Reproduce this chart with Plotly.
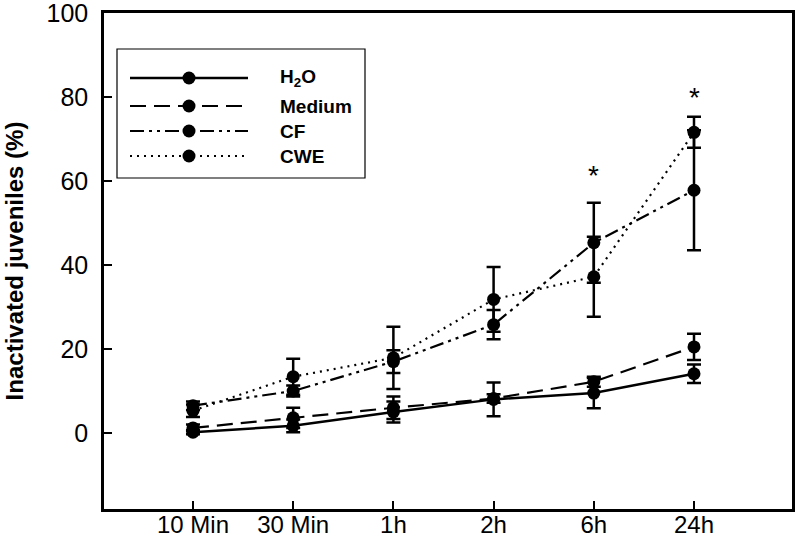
import plotly.graph_objects as go

times = ["10 Min", "30 Min", "1h", "2h", "6h", "24h"]

h2o = [0.2, 1.7, 5.0, 8.0, 9.5, 14.1]
h2o_err = [0.5, 1.5, 2.5, 4.0, 3.6, 2.2]
medium = [1.2, 3.6, 6.0, 8.2, 12.2, 20.5]
medium_err = [0.8, 2.4, 2.7, 1.0, 1.2, 3.1]
cf = [6.5, 10.0, 17.0, 25.8, 45.3, 57.8]
cf_err = [1.0, 1.3, 2.7, 3.5, 9.5, 14.3]
cwe = [5.3, 13.4, 17.9, 31.8, 37.2, 71.6]
cwe_err = [1.5, 4.3, 7.4, 7.7, 9.5, 3.7]

series_names = ["H<sub>2</sub>O", "Medium", "CF", "CWE"]
signif_times = ["6h", "24h"]
signif_y = [61.4, 80.0]

dashes = ["solid", "16px,8px", "14px,5px,3px,5px,3px,5px", "2px,5px"]
widths = [2.5, 2.2, 2.2, 2.2]

fig = go.Figure()
for vals, errs, dash, w in zip([h2o, medium, cf, cwe], [h2o_err, medium_err, cf_err, cwe_err], dashes, widths):
    fig.add_trace(go.Scatter(
        x=times, y=vals, mode="lines+markers",
        line=dict(color="black", width=w, dash=dash),
        marker=dict(color="black", size=13, symbol="circle"),
        error_y=dict(type="data", array=errs, visible=True, color="black", thickness=2.5, width=7),
        showlegend=False,
    ))

for t, yv in zip(signif_times, signif_y):
    fig.add_annotation(x=t, y=yv, text="*", showarrow=False,
                       font=dict(family="Arial", size=28, color="black"), yanchor="middle")

# Manual legend (pixel-mapped paper coords)
L, R, T, B = 104, 792, 13, 509
def px(x):
    return (x - L) / (R - L)
def py(y):
    return (B - y) / (B - T)

fig.add_shape(type="rect", xref="paper", yref="paper",
              x0=px(117), x1=px(365), y0=py(178), y1=py(49),
              line=dict(color="black", width=1.2), fillcolor="white", layer="above")
rows = [78, 106, 131, 156]
for name, dash, w, ry in zip(series_names, dashes, widths, rows):
    fig.add_shape(type="line", xref="paper", yref="paper",
                  x0=px(130), x1=px(248), y0=py(ry), y1=py(ry),
                  line=dict(color="black", width=w, dash=dash), layer="above")
    fig.add_shape(type="circle", xref="paper", yref="paper",
                  x0=px(189 - 6.5), x1=px(189 + 6.5), y0=py(ry + 6.5), y1=py(ry - 6.5),
                  line=dict(color="black", width=0), fillcolor="black", layer="above")
    fig.add_annotation(xref="paper", yref="paper", x=px(278), y=py(ry),
                       text="<b>" + name + "</b>", showarrow=False, xanchor="left", yanchor="middle",
                       font=dict(family="Arial", size=19, color="black"))

fig.update_layout(
    width=797, height=550,
    margin=dict(l=L, r=797 - R, t=T, b=550 - B),
    paper_bgcolor="white", plot_bgcolor="white",
    font=dict(family="Arial", color="black"),
    xaxis=dict(
        type="category", range=[-0.888, 5.978], automargin=False,
        showline=True, mirror=True, linecolor="black", linewidth=2.5,
        ticks="inside", ticklen=8, tickwidth=2, tickcolor="black",
        tickfont=dict(size=24), showgrid=False, zeroline=False,
        ticklabelstandoff=-8, ticklabeloverflow="allow",
    ),
    yaxis=dict(
        range=[-18.1, 100], tickvals=[0, 20, 40, 60, 80, 100], automargin=False,
        showline=True, mirror=True, linecolor="black", linewidth=2.5,
        ticks="inside", ticklen=8, tickwidth=2, tickcolor="black",
        tickfont=dict(size=25), showgrid=False, zeroline=False,
        ticklabelstandoff=8, ticklabeloverflow="allow",
        title=dict(text="<b>Inactivated juveniles (%)</b>", font=dict(size=24), standoff=17),
    ),
)

fig.write_html("out.html", config={"displayModeBar": False},
               post_script="document.body.style.margin='0px';")
